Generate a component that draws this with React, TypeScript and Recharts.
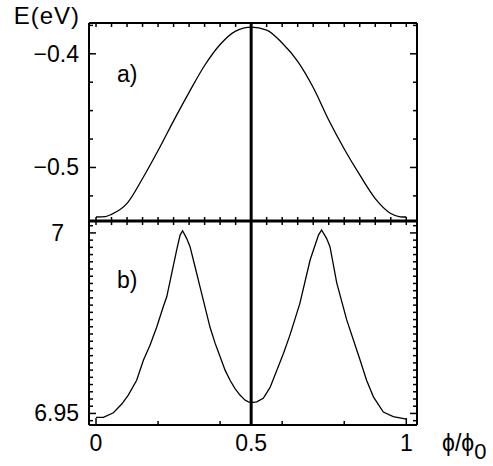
import { Line, LineChart, ReferenceLine, XAxis, YAxis } from "recharts";

// panel a) – lower band, E in eV
const xA = [0, 0.03, 0.05, 0.1, 0.15, 0.2, 0.25, 0.3, 0.35, 0.4, 0.45, 0.5, 0.55, 0.6, 0.65, 0.7, 0.75, 0.8, 0.85, 0.9, 0.95, 0.98, 1.0];
const eA = [-0.5436, -0.5432, -0.5412, -0.5316, -0.5097, -0.4851, -0.459, -0.4339, -0.4103, -0.3918, -0.38, -0.3765, -0.3791, -0.3905, -0.4067, -0.4297, -0.4583, -0.4838, -0.5066, -0.5274, -0.5405, -0.5434, -0.5436];

// panel b) – upper band, E in eV
const xB = [
  0, 0.024, 0.056, 0.083, 0.104, 0.131, 0.153, 0.174, 0.196, 0.217, 0.228, 0.244, 0.26, 0.271, 0.279, 0.292, 0.303,
  0.319, 0.335, 0.351, 0.367, 0.384, 0.4, 0.416, 0.432, 0.448, 0.464, 0.48, 0.491, 0.5, 0.518, 0.539, 0.561, 0.604,
  0.625, 0.657, 0.69, 0.717, 0.727, 0.743, 0.754, 0.776, 0.808, 0.851, 0.872, 0.894, 0.926, 0.958, 1.0,
];
const eB = [
  6.9489, 6.9489, 6.9502, 6.9526, 6.9551, 6.9592, 6.9648, 6.9689, 6.974, 6.9796, 6.9823, 6.9888, 6.9953, 6.9994, 7.0006, 6.9985, 6.9962,
  6.9907, 6.9851, 6.9796, 6.974, 6.9694, 6.9657, 6.962, 6.9592, 6.9569, 6.9551, 6.9537, 6.9532, 6.953, 6.9532, 6.9542, 6.9572, 6.9666,
  6.9717, 6.9805, 6.9925, 6.9994, 7.0008, 6.9985, 6.9962, 6.9861, 6.9759, 6.9648, 6.9592, 6.9546, 6.9504, 6.9491, 6.9484,
];

const xTickLabels = [0, 0.5, 1];
const yLabelsA = [-0.5, -0.4];
const yLabelsB = [6.95, 7];

const range = (a: number, b: number, step: number) => {
  const out: number[] = [];
  for (let v = a; v <= b + step / 2; v += step) out.push(Math.round(v * 10000) / 10000);
  return out;
};

const xMinor = range(0, 1, 0.05);
const xBottomB = [0, 0.2, 0.4, 0.5, 0.6, 0.8, 1];
const yTicksA = range(-0.525, -0.375, 0.025);
const yTicksB = range(6.948, 7.002, 0.002);

const dataA = xA.map((x, i) => ({ x, e: eA[i] }));
const dataB = xB.map((x, i) => ({ x, e: eB[i] }));

const X_DOMAIN: [number, number] = [-0.0226, 1.0345];
const FONT = "'Liberation Sans', Arial, sans-serif";
const W = 493;
const H = 466;

type Side = "left" | "right" | "top" | "bottom";

const fmt = (v: number) => (v < 0 ? `\u2212${Math.abs(v)}` : `${v}`);

// inward frame ticks (Mathematica style), optional label outside the frame
function frameTick(side: Side, majors: number[], labelled: boolean) {
  return (props: any) => {
    const { x, y, payload, index } = props;
    const v: number = payload.value;
    const isMajor = majors.some((m) => Math.abs(m - v) < 1e-6);
    const len = isMajor ? 7 : 4;
    let x2 = x;
    let y2 = y;
    if (side === "left") x2 = x + len;
    if (side === "right") x2 = x - len;
    if (side === "top") y2 = y + len;
    if (side === "bottom") y2 = y - len;
    const text = labelled && isMajor ? fmt(v) : null;
    return (
      <g key={`${side}-${index}`}>
        <line x1={x} y1={y} x2={x2} y2={y2} stroke="#000" strokeWidth={1.5} />
        {text && side === "left" && (
          <text x={text === "7" ? x - 25 : x - 10} y={y + 8} textAnchor="end" fontFamily={FONT} fontSize={23} fill="#000">
            {text}
          </text>
        )}
        {text && side === "bottom" && (
          <text x={x} y={451} textAnchor="middle" fontFamily={FONT} fontSize={23} fill="#000">
            {text}
          </text>
        )}
      </g>
    );
  };
}

const axisLine = (w: number) => ({ stroke: "#000", strokeWidth: w });

interface PanelProps {
  data: { x: number; e: number }[];
  domain: [number, number];
  yTicks: number[];
  yLabels: number[];
  top: number;
  bottom: number;
  topTicks: number[];
  bottomTicks: number[];
  bottomLabelled: boolean;
  bottomWidth: number;
  curve: "linear" | "monotone";
}

// every axis is 1px thick (Recharts skips zero-size axes), margins compensate
function Panel({ data, domain, yTicks, yLabels, top, bottom, topTicks, bottomTicks, bottomLabelled, bottomWidth, curve }: PanelProps) {
  return (
    <LineChart
      width={W}
      height={H}
      data={data}
      margin={{ top: top - 1, bottom: H - bottom - 1, left: 88, right: W - 417 - 1 }}
      style={{ position: "absolute", left: 0, top: 0 }}
    >
      <XAxis
        xAxisId="b"
        dataKey="x"
        type="number"
        domain={X_DOMAIN}
        ticks={bottomTicks}
        interval={0}
        height={1}
        tickSize={0}
        tickMargin={0}
        tickLine={false}
        axisLine={axisLine(bottomWidth)}
        tick={frameTick("bottom", bottomLabelled ? xTickLabels : [], bottomLabelled)}
        allowDataOverflow
      />
      <XAxis
        xAxisId="t"
        dataKey="x"
        orientation="top"
        type="number"
        domain={X_DOMAIN}
        ticks={topTicks}
        interval={0}
        height={1}
        tickSize={0}
        tickMargin={0}
        tickLine={false}
        axisLine={axisLine(2)}
        tick={frameTick("top", [], false)}
        allowDataOverflow
      />
      <YAxis
        yAxisId="l"
        type="number"
        domain={domain}
        ticks={yTicks}
        interval={0}
        width={1}
        tickSize={0}
        tickMargin={0}
        tickLine={false}
        axisLine={axisLine(2)}
        tick={frameTick("left", yLabels, true)}
        allowDataOverflow
      />
      <YAxis
        yAxisId="r"
        orientation="right"
        type="number"
        domain={domain}
        ticks={yTicks}
        interval={0}
        width={1}
        tickSize={0}
        tickMargin={0}
        tickLine={false}
        axisLine={axisLine(2)}
        tick={frameTick("right", yLabels, false)}
        allowDataOverflow
      />
      <ReferenceLine xAxisId="b" yAxisId="l" x={0.5} stroke="#000" strokeWidth={3} />
      {/* invisible twin so the top axis gets a real scale */}
      <Line
        xAxisId="t"
        yAxisId="r"
        dataKey="e"
        stroke="none"
        dot={false}
        activeDot={false}
        isAnimationActive={false}
      />
      <Line
        xAxisId="b"
        yAxisId="l"
        dataKey="e"
        type={curve}
        stroke="#000"
        strokeWidth={1.3}
        dot={false}
        isAnimationActive={false}
      />
    </LineChart>
  );
}

export default function App() {
  return (
    <div style={{ position: "absolute", left: 0, top: 0, width: W, height: H, background: "#fff" }}>
      <Panel
        data={dataA}
        domain={[-0.5471, -0.3729]}
        yTicks={yTicksA}
        yLabels={yLabelsA}
        top={23}
        bottom={221}
        topTicks={xMinor}
        bottomTicks={xMinor}
        bottomLabelled={false}
        bottomWidth={3}
        curve="monotone"
      />
      <Panel
        data={dataB}
        domain={[6.9468, 7.0033]}
        yTicks={yTicksB}
        yLabels={yLabelsB}
        top={221}
        bottom={425}
        topTicks={xMinor}
        bottomTicks={xBottomB}
        bottomLabelled
        bottomWidth={2}
        curve="linear"
      />
      <svg width={W} height={H} style={{ position: "absolute", left: 0, top: 0, pointerEvents: "none" }}>
        <g fontFamily={FONT} fontSize={23} fill="#000">
          <text x={80} y={24} textAnchor="end" fontSize={24} letterSpacing={1}>E(eV)</text>
          <text x={117} y={82}>a)</text>
          <text x={117} y={288}>b)</text>
          <text x={442} y={451}>
            ϕ/ϕ<tspan fontSize={22} dy={8}>0</tspan>
          </text>
        </g>
      </svg>
    </div>
  );
}
